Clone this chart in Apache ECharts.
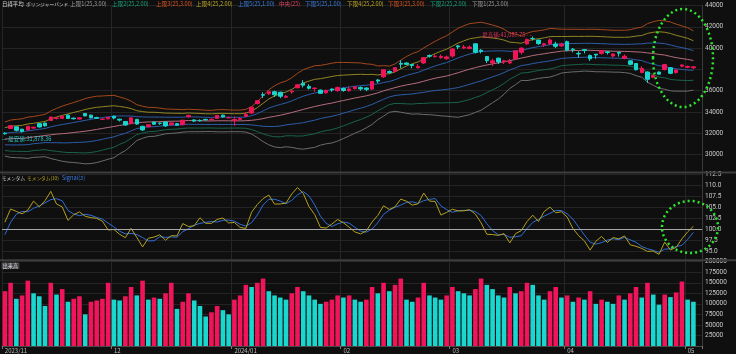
<!DOCTYPE html>
<html>
<head>
<meta charset="utf-8">
<script src="https://cdn.jsdelivr.net/npm/echarts@6/dist/echarts.min.js"></script>
<style>
html,body{margin:0;padding:0;background:#0f0f0f;}
#chart_box{width:736px;height:354px;}
</style>
</head>
<body>
<div id="chart_box"></div>
<script>
// 日付（営業日）
const dates = [
  '2023/11/02','2023/11/06','2023/11/07','2023/11/08','2023/11/09','2023/11/10','2023/11/13','2023/11/14','2023/11/15','2023/11/16',
  '2023/11/17','2023/11/20','2023/11/21','2023/11/22','2023/11/24','2023/11/27','2023/11/28','2023/11/29','2023/11/30',
  '2023/12/01','2023/12/04','2023/12/05','2023/12/06','2023/12/07','2023/12/08','2023/12/11','2023/12/12','2023/12/13','2023/12/14',
  '2023/12/15','2023/12/18','2023/12/19','2023/12/20','2023/12/21','2023/12/22','2023/12/25','2023/12/26','2023/12/27','2023/12/28','2023/12/29',
  '2024/01/04','2024/01/05','2024/01/09','2024/01/10','2024/01/11','2024/01/12','2024/01/15','2024/01/16','2024/01/17','2024/01/18',
  '2024/01/19','2024/01/22','2024/01/23','2024/01/24','2024/01/25','2024/01/26','2024/01/29','2024/01/30','2024/01/31',
  '2024/02/01','2024/02/02','2024/02/05','2024/02/06','2024/02/07','2024/02/08','2024/02/09','2024/02/13','2024/02/14','2024/02/15',
  '2024/02/16','2024/02/19','2024/02/20','2024/02/21','2024/02/22','2024/02/26','2024/02/27','2024/02/28','2024/02/29',
  '2024/03/01','2024/03/04','2024/03/05','2024/03/06','2024/03/07','2024/03/08','2024/03/11','2024/03/12','2024/03/13','2024/03/14',
  '2024/03/15','2024/03/18','2024/03/19','2024/03/21','2024/03/22','2024/03/25','2024/03/26','2024/03/27','2024/03/28','2024/03/29',
  '2024/04/01','2024/04/02','2024/04/03','2024/04/04','2024/04/05','2024/04/08','2024/04/09','2024/04/10','2024/04/11','2024/04/12',
  '2024/04/15','2024/04/16','2024/04/17','2024/04/18','2024/04/19','2024/04/22','2024/04/23','2024/04/24','2024/04/25','2024/04/26','2024/04/30',
  '2024/05/01','2024/05/02'
];
// 表示期間より前の終値（25日ボリンジャー・10日モメンタム用）
const preCloses = [31872,31857,31759,31237,30526,31075,30994,31746,31936,32494,32315,31659,32040,32042,31430,31259,30999,31062,31269,30601,30991,30696,30858,31601];
const opens = [
  32000,32450,32600,32380,32300,32480,32900,32950,33200,33400,33400,33700,33420,33330,33850,33700,33480,33300,33350,
  33600,33320,33100,32900,33300,32650,32600,33050,32950,33050,32800,32900,32800,33550,33250,33200,33300,33250,33400,33700,33450,
  33193,33300,33600,33900,34800,35620,35700,35900,35850,35380,35880,36280,36700,36400,36200,36050,35800,36150,36000,
  36200,36000,36200,36300,36250,36150,37000,37300,37800,37800,38560,38600,38450,38150,38600,39300,39200,39100,39000,
  39250,40200,40000,39950,40400,39800,39200,38600,39050,38700,38600,39000,39600,40400,40900,40750,40300,40400,40380,40200,
  40600,39900,39500,39850,39300,39420,39500,39650,39250,39600,39050,38800,38550,37700,37750,37250,37750,37980,38150,37700,38300,
  38200,38150
];
const highs = [
  32100,32760,32650,32420,32700,32620,32950,33000,33550,33500,33650,33750,33460,33480,33900,33750,33540,33400,33500,
  33650,33360,33150,33500,33350,32700,32850,33100,33000,33100,33000,32950,33250,33750,33300,33300,33350,33400,33700,33750,33550,
  33568,33500,33990,34500,35100,35839,36008,36000,35900,35600,36000,36600,36984,36600,36300,36100,36100,36200,36400,
  36300,36400,36400,36400,36300,36900,37100,38000,37900,38200,38865,38650,38500,38500,39156,39400,39400,39400,39300,
  39990,40300,40300,40250,40450,39900,39250,39000,39100,38900,39000,39800,40050,40900,41087.75,40800,40500,40900,40600,40500,
  40700,40000,39700,39900,39400,39450,39800,39700,39500,39650,39400,38850,38600,38300,37800,37500,37800,38500,38200,38000,38500,
  38350,38300
];
const lows = [
  31878.36,32420,32170,32060,32260,32400,32540,32620,33150,33300,33350,33350,33300,33290,33600,33400,33350,33250,33300,
  33300,33100,32700,32850,32800,32205,32550,32800,32800,32600,32750,32700,32750,33450,33050,33100,33200,33200,33350,33450,33400,
  32693,33200,33500,33800,34700,35300,35600,35400,35300,35300,35700,36200,36300,36100,35900,35700,35700,35900,35900,
  35900,35900,36100,36000,35950,36050,36700,37200,37600,37700,38100,38400,38100,38100,38500,39100,39100,39000,38900,
  39100,39900,39900,39900,39500,39500,38600,38300,38500,38500,38500,38900,39400,40300,40700,40300,40100,40300,40000,40100,
  39700,39600,39100,39500,38800,39000,39400,39400,39100,39200,38950,38400,37900,37650,36733,37200,37500,37900,37550,37600,38200,
  38100,38050
];
const closes = [
  31949.89,32708.48,32271.82,32166.48,32646.46,32568.11,32585.11,32695.86,33519.70,33424.41,33585.20,33388.03,33354.14,33451.83,33625.53,33447.67,33408.39,33321.22,33486.89,
  33431.51,33231.27,32775.82,33445.90,32858.31,32307.86,32791.80,32843.71,32926.35,32686.25,32970.55,32758.98,33219.39,33675.94,33140.47,33169.05,33254.03,33305.85,33681.24,33539.62,33464.17,
  33288.29,33377.42,33763.18,34441.72,35049.86,35577.11,35901.79,35619.18,35477.75,35466.17,35963.27,36546.95,36517.57,36226.48,36236.47,35751.07,36026.94,36065.86,36286.71,
  36011.46,36158.02,36354.16,36160.66,36119.92,36863.28,36897.42,37963.97,37703.32,38157.94,38487.24,38470.38,38363.61,38262.16,39098.68,39233.71,39239.52,39208.03,39166.19,
  39910.82,40109.23,40097.63,40090.78,39598.71,39688.94,38820.49,38797.51,38695.97,38807.38,38707.64,39740.44,40003.60,40815.66,40888.43,40414.12,40398.03,40762.73,40168.07,40369.44,
  39803.09,39838.91,39451.85,39773.13,38992.08,39347.04,39773.14,39581.81,39442.63,39523.55,39232.80,38471.20,37961.80,38079.70,37068.35,37438.61,37552.16,38460.08,37628.48,37934.76,38405.66,
  38274.05,38236.07
];
const volumes = [
  130000,150000,112000,120000,155000,125000,118000,95000,150000,122000,135000,105000,112000,118000,75000,105000,108000,112000,150000,
  110000,108000,118000,140000,120000,155000,110000,115000,112000,125000,150000,88000,105000,125000,108000,95000,70000,80000,95000,85000,75000,
  110000,120000,145000,140000,150000,160000,130000,120000,115000,110000,125000,140000,130000,120000,110000,100000,105000,110000,120000,
  115000,120000,110000,105000,110000,140000,125000,150000,130000,145000,160000,110000,105000,115000,150000,120000,115000,110000,120000,
  140000,130000,125000,120000,135000,160000,145000,135000,120000,115000,140000,125000,130000,150000,145000,120000,110000,130000,140000,115000,
  120000,105000,115000,110000,130000,100000,110000,105000,100000,120000,110000,125000,140000,115000,150000,122000,98000,122000,116000,127000,153000,
  110000,105000
];
const priceTicks = { min: 28000, max: 44000, step: 2000 };
const momTicks = { min: 92.5, max: 112.5, step: 2.5 };
const volTicks = { min: 0, max: 200000, step: 25000 };

const UP = '#f2145a', DOWN = '#19d6cf';
const fmt = v => v.toLocaleString('en-US', { minimumFractionDigits: 2, maximumFractionDigits: 2 });

// ボリンジャーバンド(25)
const allCloses = preCloses.concat(closes);
const P = preCloses.length;
const mid = [], sd = [];
for (let i = 0; i < closes.length; i++) {
  const w = allCloses.slice(P + i - 24, P + i + 1);
  const m = w.reduce((a, b) => a + b, 0) / w.length;
  mid.push(m);
  sd.push(Math.sqrt(w.reduce((a, b) => a + (b - m) * (b - m), 0) / w.length));
}
const bandDefs = [
  { k: 3, c: '#a4471c' }, { k: 2, c: '#8f8622' }, { k: 1, c: '#2c5ca8' }, { k: 0, c: '#b46c7c' },
  { k: -1, c: '#2c5ca8' }, { k: -2, c: '#19634a' }, { k: -3, c: '#6c6c6c' }
];
// モメンタム(10) と Signal(3)
const momAll = allCloses.map((c, i) => i >= 10 ? c / allCloses[i - 10] * 100 : null);
const mom = [], sig = [];
for (let i = 0; i < closes.length; i++) {
  const j = P + i;
  mom.push(momAll[j]);
  sig.push((momAll[j] + momAll[j - 1] + momAll[j - 2]) / 3);
}

const monthStarts = [];
dates.forEach((d, i) => { if (i === 0 || d.slice(5, 7) !== dates[i - 1].slice(5, 7)) monthStarts.push(i); });
const monthLabel = i => {
  const d = dates[i];
  return (i === 0 || d.slice(5, 7) === '01') ? d.slice(0, 7) : d.slice(5, 7);
};
const cats = dates.concat(['']);
const isMonth = i => monthStarts.indexOf(i) >= 0;

let maxI = 0, minI = 0;
highs.forEach((h, i) => { if (h > highs[maxI]) maxI = i; });
lows.forEach((l, i) => { if (l < lows[minI]) minI = i; });
const lastClose = closes[closes.length - 1];

const FONT = "'Noto Sans CJK JP', 'Noto Sans', sans-serif";
const gridL = 2, gridR = 34;
const grids = [
  { left: gridL, right: gridR, top: 5.5, height: 170.3 },
  { left: gridL, right: gridR, top: 174.2, height: 88.6 },
  { left: gridL, right: gridR, top: 261.7, height: 84.9 }
];

const xAxes = [0, 1, 2].map(g => ({
  type: 'category', gridIndex: g, data: cats, boundaryGap: true,
  axisLine: { show: g === 2, lineStyle: { color: '#4a4a4a' } },
  axisTick: { show: g === 2, interval: (i) => isMonth(i), length: 3, lineStyle: { color: '#777' } },
  axisLabel: {
    show: g === 2, interval: (i) => isMonth(i), formatter: (v, i) => monthLabel(i),
    align: 'left', color: '#bbb', fontSize: 6, fontFamily: FONT, margin: 2
  },
  splitLine: { show: true, interval: (i) => isMonth(i), lineStyle: { color: '#262626', width: 1 } }
}));

function yAx(g, t, fmtFn) {
  return {
    type: 'value', gridIndex: g, position: 'right', min: t.min, max: t.max, interval: t.step,
    axisLine: { show: true, lineStyle: { color: '#3a3a3a' } },
    axisTick: { show: false },
    axisLabel: { color: '#c8c8c8', fontSize: 6.5, fontFamily: 'Roboto, sans-serif', margin: 3, showMinLabel: false, formatter: fmtFn },
    splitLine: { show: true, showMinLine: false, lineStyle: { color: '#242424', width: 1 } }
  };
}

const series = bandDefs.map(b => ({
  type: 'line', xAxisIndex: 0, yAxisIndex: 0, symbol: 'none', silent: true,
  data: mid.map((m, i) => m + b.k * sd[i]),
  lineStyle: { color: b.c, width: 1 }, z: 2
}));
series.push({
  type: 'candlestick', xAxisIndex: 0, yAxisIndex: 0, barWidth: 4, z: 3,
  data: closes.map((c, i) => [opens[i], c, lows[i], highs[i]]),
  itemStyle: { color: UP, color0: DOWN, borderColor: UP, borderColor0: DOWN, borderWidth: 1 },
  markPoint: {
    symbol: 'circle', symbolSize: 0, silent: true,
    data: [
      { coord: [maxI, highs[maxI]], label: { show: true, position: 'left', distance: 1, offset: [0, -2], formatter: '最高値:' + fmt(highs[maxI]) + ' - -', color: '#e8345f', fontSize: 5.6, fontFamily: FONT } },
      { coord: [minI, lows[minI]], label: { show: true, position: 'right', distance: 0, offset: [-3, 4.5], formatter: '— 最安値:' + fmt(lows[minI]), color: '#2cc4c8', fontSize: 5.6, fontFamily: FONT } }
    ]
  },
  markLine: {
    symbol: 'none', silent: true,
    data: [{ yAxis: lastClose }],
    lineStyle: { opacity: 0 },
    label: { show: true, position: 'end', distance: 2, formatter: fmt(lastClose), backgroundColor: '#f2ee7c', color: '#222', padding: [1, 2], fontSize: 6.5, fontFamily: 'Roboto, sans-serif' }
  }
});
series.push({
  type: 'line', xAxisIndex: 1, yAxisIndex: 1, symbol: 'none', data: sig,
  lineStyle: { color: '#2f6ed8', width: 1 }, z: 2
});
series.push({
  type: 'line', xAxisIndex: 1, yAxisIndex: 1, symbol: 'none', data: mom,
  lineStyle: { color: '#b4a11f', width: 1 }, z: 3,
  markLine: { symbol: 'none', silent: true, data: [{ yAxis: 100 }], label: { show: false }, lineStyle: { color: '#a8a8a8', width: 1, type: 'solid' } }
});
series.push({
  type: 'bar', xAxisIndex: 2, yAxisIndex: 2, barWidth: '80%',
  data: volumes.map((v, i) => ({ value: v, itemStyle: { color: (i === 0 || v >= volumes[i - 1]) ? UP : DOWN } }))
});

// 凡例テキスト: [文字, 色, x, 文字サイズ]
const headItems = [
  ['日経平均', '#d6d6d6', 2, 5.4], ['ボリンジャーバンド', '#d6d6d6', 26, 4.7],
  ['上限1(25,3.00)', '#9c9c9c', 70, 5.6], ['上限2(25,2.00)', '#14a378', 112, 5.6], ['上限3(25,3.00)', '#dc5520', 156, 5.6],
  ['上限4(25,2.00)', '#bda824', 196, 5.6], ['上限5(25,1.00)', '#3a7adc', 238, 5.6], ['中央(25)', '#dc4462', 279, 5.6],
  ['下限5(25,1.00)', '#3a7adc', 305, 5.6], ['下限4(25,2.00)', '#bda824', 347, 5.6], ['下限3(25,3.00)', '#dc5520', 388, 5.6],
  ['下限2(25,2.00)', '#14a378', 430, 5.6], ['下限1(25,3.00)', '#9c9c9c', 472, 5.6]
];
const paneItems = [
  ['モメンタム', '#d6d6d6', 2, 175.5, 4.6], ['モメンタム(10)', '#c2ab22', 27, 175.5, 4.7], ['Signal(3)', '#3a7adc', 62, 175.5, 5.6]
];
const titles = headItems.map(h => ({
  left: h[2], top: 1.5, padding: 0, text: h[0], textStyle: { color: h[1], fontSize: h[3], fontWeight: 'normal', fontFamily: FONT }
})).concat(paneItems.map(h => ({
  left: h[2], top: h[3], padding: 0, text: h[0], textStyle: { color: h[1], fontSize: h[4], fontWeight: 'normal', fontFamily: FONT }
})));
titles.push({ left: 1.5, top: 262.5, text: '出来高', padding: [0.5, 1], backgroundColor: 'rgba(120,120,130,0.45)', textStyle: { color: '#e0e0e0', fontSize: 5.3, fontWeight: 'normal', fontFamily: FONT } });

const option = {
  animation: false,
  backgroundColor: '#0f0f0f',
  grid: grids,
  xAxis: xAxes,
  yAxis: [
    yAx(0, priceTicks, v => Math.abs(v - lastClose) < 700 ? '' : String(v)),
    yAx(1, momTicks, v => v.toFixed(1)),
    yAx(2, volTicks, v => String(v))
  ],
  title: titles,
  graphic: [
    { type: 'line', shape: { x1: 0, y1: 172.5, x2: 736, y2: 172.5 }, style: { stroke: '#3d3d3d', lineWidth: 2 }, silent: true, z: 50 },
    { type: 'line', shape: { x1: 0, y1: 260.3, x2: 736, y2: 260.3 }, style: { stroke: '#3d3d3d', lineWidth: 2 }, silent: true, z: 50 },
    { type: 'ellipse', shape: { cx: 683, cy: 58, rx: 30, ry: 49 }, style: { fill: null, stroke: '#2ee62e', lineWidth: 2.5, lineDash: [2, 3] }, silent: true, z: 100 },
    { type: 'ellipse', shape: { cx: 690, cy: 227, rx: 28, ry: 26 }, style: { fill: null, stroke: '#2ee62e', lineWidth: 2.5, lineDash: [2, 3] }, silent: true, z: 100 }
  ],
  series: series
};

const myEcharts = echarts.init(document.getElementById('chart_box'));
myEcharts.setOption(option);
</script>
</body>
</html>
